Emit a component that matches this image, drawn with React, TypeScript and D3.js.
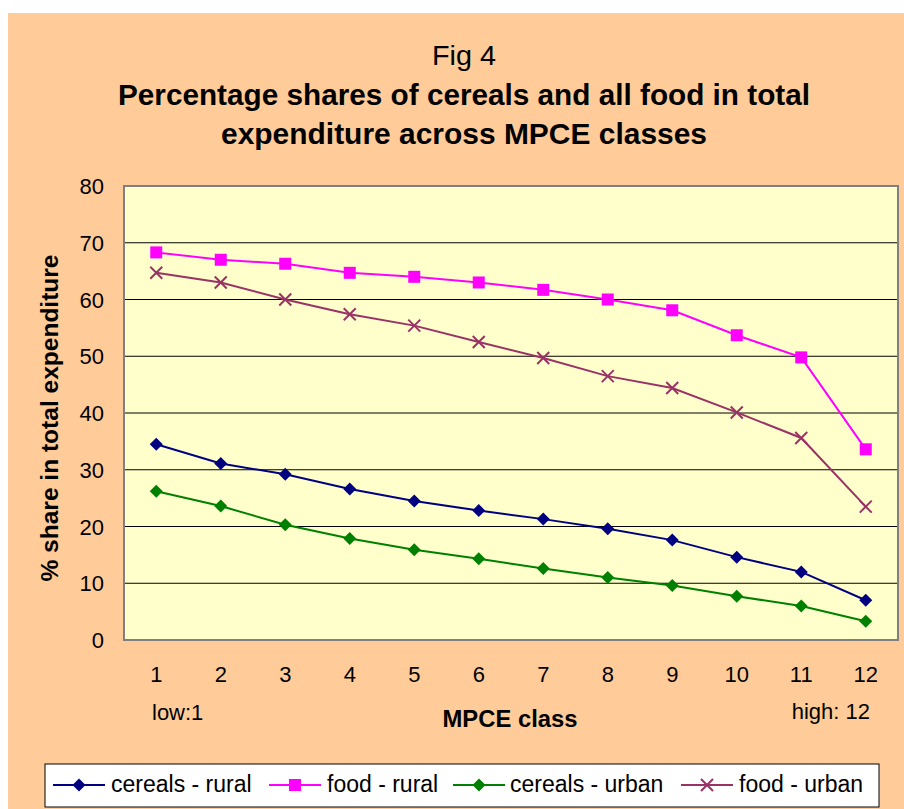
import React from "react";
import * as d3 from "d3";

const categories = [1, 2, 3, 4, 5, 6, 7, 8, 9, 10, 11, 12];
const cerealsRural = [34.5, 31.1, 29.2, 26.6, 24.5, 22.8, 21.3, 19.6, 17.6, 14.6, 12.0, 7.0];
const foodRural = [68.3, 67.0, 66.3, 64.7, 64.0, 63.0, 61.7, 60.0, 58.1, 53.7, 49.8, 33.6];
const cerealsUrban = [26.2, 23.6, 20.3, 17.9, 15.9, 14.3, 12.6, 11.0, 9.6, 7.7, 6.0, 3.3];
const foodUrban = [64.7, 63.0, 60.0, 57.4, 55.4, 52.5, 49.7, 46.5, 44.4, 40.1, 35.6, 23.5];
const yTicks = [0, 10, 20, 30, 40, 50, 60, 70, 80];
const seriesNames = ["cereals - rural", "food - rural", "cereals - urban", "food - urban"];

const W = 904;
const H = 809;
const plot = { left: 124, top: 186, right: 898, bottom: 640 };
const FONT = "Liberation Sans, Arial, sans-serif";

type Marker = "diamond" | "square" | "x";
const series: { name: string; values: number[]; color: string; marker: Marker }[] = [
  { name: seriesNames[0], values: cerealsRural, color: "#000080", marker: "diamond" },
  { name: seriesNames[1], values: foodRural, color: "#FF00FF", marker: "square" },
  { name: seriesNames[2], values: cerealsUrban, color: "#008000", marker: "diamond" },
  { name: seriesNames[3], values: foodUrban, color: "#993366", marker: "x" },
];

function MarkerShape({ type, x, y, color }: { type: Marker; x: number; y: number; color: string }) {
  if (type === "diamond") {
    const r = 6.5;
    return <path d={`M${x},${y - r}L${x + r},${y}L${x},${y + r}L${x - r},${y}Z`} fill={color} />;
  }
  if (type === "square") {
    const s = 12;
    return <rect x={x - s / 2} y={y - s / 2} width={s} height={s} fill={color} />;
  }
  const r = 6;
  return (
    <path
      d={`M${x - r},${y - r}L${x + r},${y + r}M${x - r},${y + r}L${x + r},${y - r}`}
      stroke={color}
      strokeWidth={2}
      fill="none"
    />
  );
}

export default function App() {
  const x = d3
    .scaleBand<number>()
    .domain(categories)
    .range([plot.left, plot.right]);
  const cx = (c: number) => (x(c) as number) + x.bandwidth() / 2;
  const y = d3.scaleLinear().domain([0, 80]).range([plot.bottom, plot.top]);
  const line = d3
    .line<number>()
    .x((_, i) => cx(categories[i]))
    .y((d) => y(d));

  const legendItems = [
    { lx: 53, tx: 111 },
    { lx: 269, tx: 327 },
    { lx: 453, tx: 510 },
    { lx: 681, tx: 739 },
  ];
  const legendY = 785;

  return (
    <svg
      width={W}
      height={H}
      style={{ position: "absolute", left: 0, top: 0, display: "block" }}
      fontFamily={FONT}
    >
      <rect x={0} y={0} width={W} height={H} fill="#ffffff" />
      <rect x={8} y={13} width={W - 8} height={H - 13} fill="#FFCC99" />

      <text x={464} y={65} textAnchor="middle" fontSize={28} fill="#000" textLength={64} lengthAdjust="spacingAndGlyphs">
        Fig 4
      </text>
      <text x={464} y={105} textAnchor="middle" fontSize={30} fontWeight="bold" fill="#000" textLength={692} lengthAdjust="spacingAndGlyphs">
        Percentage shares of cereals and all food in total
      </text>
      <text x={464} y={144} textAnchor="middle" fontSize={30} fontWeight="bold" fill="#000" textLength={486} lengthAdjust="spacingAndGlyphs">
        expenditure across MPCE classes
      </text>

      <rect
        x={plot.left}
        y={plot.top}
        width={plot.right - plot.left}
        height={plot.bottom - plot.top}
        fill="#FFFFCC"
      />
      {yTicks.slice(1, -1).map((t) => (
        <line key={t} x1={plot.left} x2={plot.right} y1={y(t)} y2={y(t)} stroke="#000" strokeWidth={1} />
      ))}
      <rect
        x={plot.left}
        y={plot.top}
        width={plot.right - plot.left}
        height={plot.bottom - plot.top}
        fill="none"
        stroke="#808080"
        strokeWidth={2}
      />

      {yTicks.map((t) => (
        <text key={t} x={104} y={y(t) + 8} textAnchor="end" fontSize={22} fill="#000">
          {t}
        </text>
      ))}
      {categories.map((c) => (
        <text key={c} x={cx(c)} y={682} textAnchor="middle" fontSize={22} fill="#000">
          {c}
        </text>
      ))}
      <text x={152} y={720} fontSize={22} fill="#000">
        low:1
      </text>
      <text x={870} y={719} textAnchor="end" fontSize={22} fill="#000">
        high: 12
      </text>
      <text x={510} y={727} textAnchor="middle" fontSize={23} fontWeight="bold" fill="#000" textLength={135} lengthAdjust="spacingAndGlyphs">
        MPCE class
      </text>
      <text
        transform={`translate(58,418) rotate(-90)`}
        textAnchor="middle"
        fontSize={23}
        fontWeight="bold"
        fill="#000"
        textLength={327}
        lengthAdjust="spacingAndGlyphs"
      >
        % share in total expenditure
      </text>

      {series.map((s) => (
        <g key={s.name}>
          <path d={line(s.values) || ""} fill="none" stroke={s.color} strokeWidth={2} />
          {s.values.map((v, i) => (
            <MarkerShape key={i} type={s.marker} x={cx(categories[i])} y={y(v)} color={s.color} />
          ))}
        </g>
      ))}

      <rect x={45} y={764} width={834} height={43} fill="#ffffff" stroke="#000" strokeWidth={1} />
      {series.map((s, i) => (
        <g key={s.name}>
          <line
            x1={legendItems[i].lx}
            x2={legendItems[i].lx + 52}
            y1={legendY}
            y2={legendY}
            stroke={s.color}
            strokeWidth={2}
          />
          <MarkerShape type={s.marker} x={legendItems[i].lx + 26} y={legendY} color={s.color} />
          <text x={legendItems[i].tx} y={legendY + 7} fontSize={23} fill="#000">
            {s.name}
          </text>
        </g>
      ))}
    </svg>
  );
}
